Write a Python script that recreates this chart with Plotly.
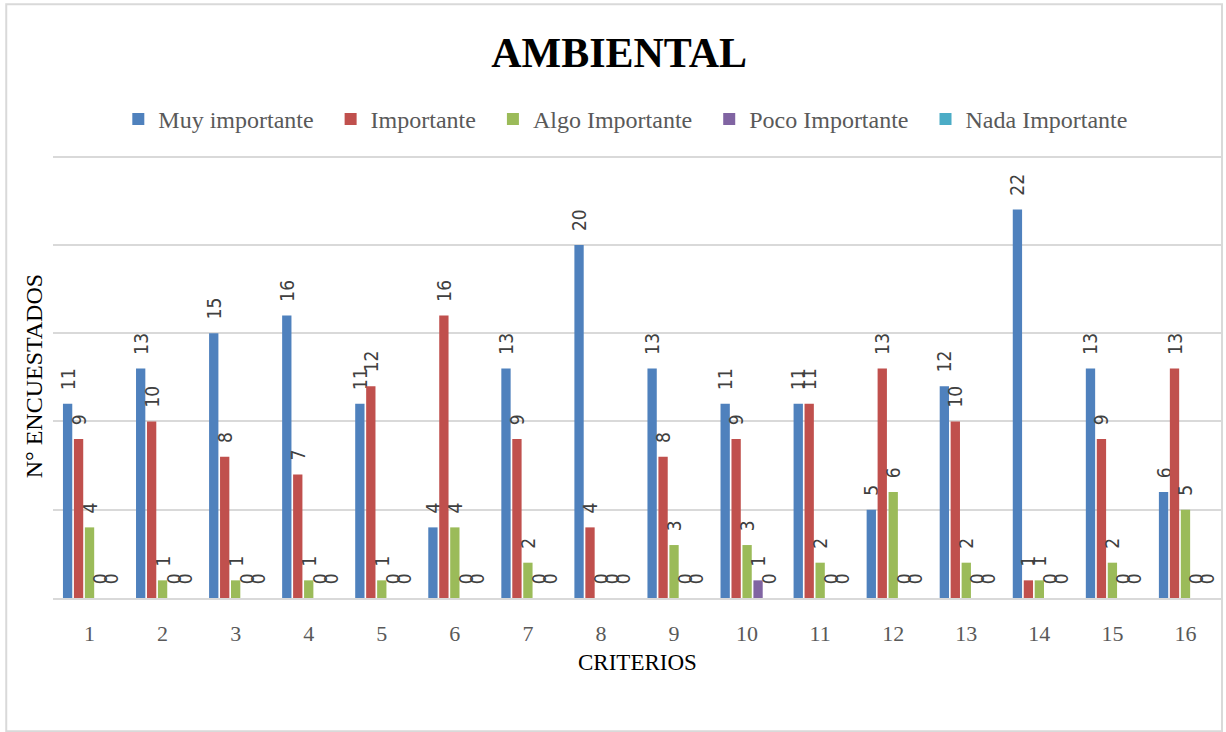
import plotly.graph_objects as go

# Survey results per criterion (number of respondents)
criterios = [str(i) for i in range(1, 17)]
muy_importante = [11, 13, 15, 16, 11, 4, 13, 20, 13, 11, 11, 5, 12, 22, 13, 6]
importante = [9, 10, 8, 7, 12, 16, 9, 4, 8, 9, 11, 13, 10, 1, 9, 13]
algo_importante = [4, 1, 1, 1, 1, 4, 2, 0, 3, 3, 2, 6, 2, 1, 2, 5]
poco_importante = [0, 0, 0, 0, 0, 0, 0, 0, 0, 1, 0, 0, 0, 0, 0, 0]
nada_importante = [0, 0, 0, 0, 0, 0, 0, 0, 0, 0, 0, 0, 0, 0, 0, 0]

series = [
    ("Muy importante", muy_importante, "#4f81bd"),
    ("Importante", importante, "#c0504d"),
    ("Algo Importante", algo_importante, "#9bbb59"),
    ("Poco Importante", poco_importante, "#8064a2"),
    ("Nada Importante", nada_importante, "#4bacc6"),
]

SERIF = "Liberation Serif, Times New Roman, serif"
LABEL_FONT = "DejaVu Sans Condensed, DejaVu Sans, sans-serif"
PAD = "\u00a0\u00a0"  # keeps rotated labels clear of the bar ends
GAP = "\u00a0\u00a0"  # extra room between legend entries

fig = go.Figure()
for i, (name, vals, color) in enumerate(series):
    legend_name = name + (GAP if i < len(series) - 1 else "")
    fig.add_trace(go.Bar(
        name=legend_name,
        x=criterios,
        y=vals,
        marker=dict(color=color, line=dict(width=0)),
        text=[PAD + str(v) for v in vals],
        textposition="outside",
        textangle=-90,
        constraintext="none",
        cliponaxis=False,
        textfont=dict(family=LABEL_FONT, size=19, color="#404040"),
    ))

fig.update_layout(
    width=1226,
    height=732,
    font=dict(family=SERIF),
    paper_bgcolor="white",
    plot_bgcolor="white",
    barmode="group",
    bargap=0.25,
    bargroupgap=0.15,
    margin=dict(l=53, r=4, t=154, b=134),
    showlegend=True,
    legend=dict(
        orientation="h",
        x=0.49, xanchor="center",
        y=1.078, yanchor="middle",
        font=dict(family=SERIF, size=24, color="#595959"),
        itemclick=False,
        itemwidth=30,
        traceorder="normal",
    ),
    title=dict(
        text="<b>AMBIENTAL</b>",
        x=0.505, xanchor="center",
        y=0.928, yanchor="middle",
        font=dict(family=SERIF, size=42, color="#000000"),
    ),
    xaxis=dict(
        type="category",
        showgrid=False,
        showline=True,
        linecolor="#d9d9d9",
        linewidth=2,
        ticks="",
        ticklabelstandoff=15,
        tickfont=dict(family=SERIF, size=22, color="#595959"),
    ),
    yaxis=dict(
        range=[0, 25.15],
        tickvals=[0, 5, 10, 15, 20, 25],
        showgrid=True,
        gridcolor="#d9d9d9",
        gridwidth=2,
        showticklabels=False,
        zeroline=False,
        showline=False,
    ),
    annotations=[
        dict(text="CRITERIOS", xref="paper", yref="paper",
             x=0.5, y=-0.145, xanchor="center", yanchor="middle",
             showarrow=False,
             font=dict(family=SERIF, size=23, color="#000000")),
        dict(text="N° ENCUESTADOS", xref="paper", yref="paper",
             x=-0.016, y=0.5, xanchor="center", yanchor="middle",
             textangle=-90, showarrow=False,
             font=dict(family=SERIF, size=24, color="#000000")),
    ],
    shapes=[
        dict(type="rect", xref="paper", yref="paper",
             x0=-0.04, x1=1.0, y0=-0.3, y1=1.337,
             line=dict(color="#d9d9d9", width=2), fillcolor="rgba(0,0,0,0)",
             layer="below"),
    ],
)

fig.write_html("out.html")
